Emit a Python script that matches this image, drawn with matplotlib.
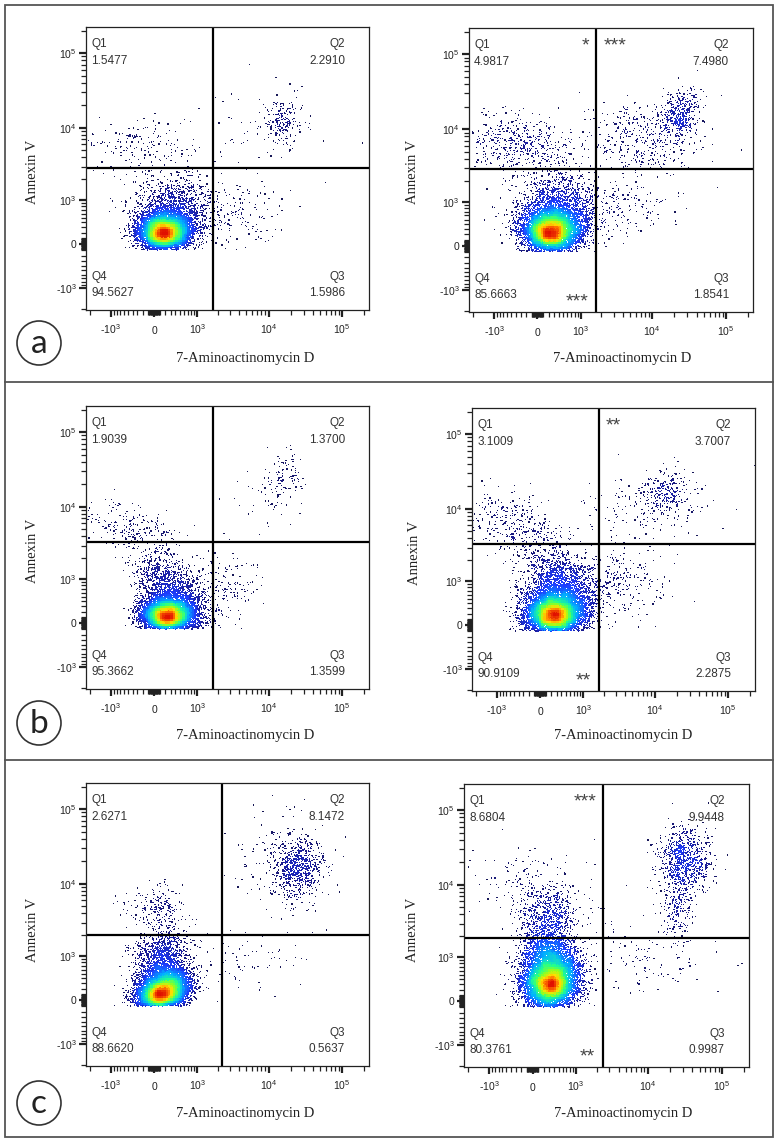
import numpy as np
import matplotlib
matplotlib.use("Agg")
import matplotlib.pyplot as plt
from matplotlib.patches import Ellipse, Rectangle
from matplotlib.lines import Line2D
from matplotlib.colors import LinearSegmentedColormap

plt.rcParams['mathtext.fontset'] = 'custom'
plt.rcParams['mathtext.rm'] = 'Liberation Sans'
plt.rcParams['font.family'] = ['Liberation Sans', 'DejaVu Sans']

# ---- data ----
row_letters = ['a', 'b', 'c']
q1_pct = [1.5477, 4.9817, 1.9039, 3.1009, 2.6271, 8.6804]
q2_pct = [2.2910, 7.4980, 1.3700, 3.7007, 8.1472, 9.9448]
q3_pct = [1.5986, 1.8541, 1.3599, 2.2875, 0.5637, 0.9987]
q4_pct = [94.5627, 85.6663, 95.3662, 90.9109, 88.6620, 80.3761]
gate_x = [1715, 1715, 1715, 1715, 2300, 2450]
gate_y = [2900, 2900, 3340, 3340, 2010, 1890]
stars_q1 = ['', '*', '', '', '', '***']
stars_q2 = ['', '***', '', '**', '', '']
stars_q4 = ['', '***', '', '**', '', '**']
x_label = '7-Aminoactinomycin D'
y_label = 'Annexin V'
tick_vals = [-1e3, 0, 1e3, 1e4, 1e5]
tick_text = ['-$10^{3}$', '0', '$10^{3}$', '$10^{4}$', '$10^{5}$']
n_events = 10000

# event populations seen in each plot:
# (centre x, centre y, spread x, spread y in asinh units, tilt, weight)
pops_a1 = [(160, 170, 0.22, 0.15, 0.0, 0.15), (190, 230, 0.40, 0.28, 0.0, 0.60),
           (350, 600, 0.60, 0.55, 0.0, 0.14),
           (-169, 5561, 0.9, 0.45, -0.2, 0.03), (16240, 12000, 0.35, 0.40, 0.2, 0.02),
           (9180, 9180, 1.0, 0.8, 0.0, 0.01), (3357, 652, 0.9, 0.55, 0.0, 0.015)]
pops_a2 = [(234, 220, 0.24, 0.17, 0.0, 0.14), (260, 280, 0.46, 0.34, 0.0, 0.56),
           (420, 700, 0.65, 0.60, -0.1, 0.18),
           (-289, 6149, 0.9, 0.45, -0.2, 0.06), (23040, 15000, 0.35, 0.40, 0.3, 0.05),
           (7515, 7515, 1.0, 0.6, 0.0, 0.05), (4545, 838, 0.9, 0.5, 0.0, 0.02)]
pops_b1 = [(234, 100, 0.22, 0.13, 0.0, 0.15), (250, 150, 0.40, 0.26, 0.0, 0.58),
           (353, 570, 0.55, 0.55, -0.4, 0.15),
           (-353, 5028, 0.8, 0.4, -0.5, 0.03), (16240, 24000, 0.40, 0.50, 0.5, 0.02),
           (9180, 9180, 0.9, 0.6, 0.0, 0.005), (2740, 741, 0.6, 0.45, 0.0, 0.015)]
pops_b2 = [(234, 150, 0.24, 0.16, 0.0, 0.14), (260, 200, 0.46, 0.34, 0.0, 0.56),
           (421, 741, 0.60, 0.60, -0.2, 0.18),
           (-493, 6149, 0.8, 0.5, -0.3, 0.04), (15150, 17000, 0.40, 0.30, 0.2, 0.03),
           (7515, 9180, 1.0, 0.6, 0.0, 0.02), (3357, 942, 0.8, 0.5, 0.0, 0.02)]
pops_c1 = [(130, 100, 0.22, 0.15, 0.3, 0.15), (160, 150, 0.40, 0.30, 0.3, 0.58),
           (150, 700, 0.42, 0.55, 0.1, 0.16),
           (56, 4500, 0.5, 0.45, 0.0, 0.03), (25200, 16000, 0.38, 0.45, 0.0, 0.07),
           (18500, 18500, 0.8, 0.8, 0.0, 0.02), (5561, 838, 0.9, 0.5, 0.0, 0.01)]
pops_c2 = [(334, 280, 0.24, 0.22, 0.1, 0.14), (334, 350, 0.44, 0.45, 0.1, 0.52),
           (289, 1100, 0.45, 0.65, 0.1, 0.20),
           (228, 4000, 0.45, 0.40, 0.0, 0.06), (0, 9180, 1.0, 0.6, 0.0, 0.03),
           (32400, 21000, 0.42, 0.50, 0.0, 0.06), (25000, 5000, 0.25, 0.45, 0.0, 0.015),
           (9180, 942, 1.0, 0.5, 0.0, 0.01)]
pops = [pops_a1, pops_a2, pops_b1, pops_b2, pops_c1, pops_c2]

# ---- layout (pixels) ----
FW, FH = 780, 1143
W = 555.0
XLIM = (-2300, 2.32e5)
YLIM = (-2075, 2.23e5)
boxes = [(86, 27, 369, 310), (469, 28, 753, 312),
         (86, 406, 369, 689), (472, 408, 755, 691),
         (86, 783, 369, 1066), (464, 784, 749, 1067)]
xlab_pos = [(245, 358), (622, 358), (245, 735), (623, 735), (245, 1113), (623, 1113)]
ylab_pos = [(32, 172), (412, 172), (32, 551), (414, 553), (33, 930), (412, 930)]
circle_pos = [(39, 343), (39, 723), (39, 1103)]

dens_cmap = LinearSegmentedColormap.from_list('flow', [
    (0.00, '#16164c'), (0.08, '#1a1a90'), (0.20, '#1e3cff'), (0.35, '#00b4ff'),
    (0.50, '#20ff90'), (0.62, '#90ff20'), (0.75, '#ffe000'), (0.88, '#ff7000'),
    (1.00, '#e01000')])


def fwd(x):
    return np.arcsinh(np.asarray(x, dtype=float) / W)


def inv(u):
    return W * np.sinh(np.asarray(u, dtype=float))


def make_events(table, pcts, gx, gy, rng):
    # pool of events from the population table, then kept per quadrant
    pool_size = 200000
    w = np.array([p[5] for p in table])
    counts = np.round(w / w.sum() * pool_size).astype(int)
    us, vs = [], []
    for (cx, cy, sx, sy, rho, _), n in zip(table, counts):
        z1 = rng.standard_normal(n)
        z2 = rng.standard_normal(n)
        us.append(fwd(cx) + sx * z1)
        vs.append(fwd(cy) + sy * (rho * z1 + np.sqrt(1 - rho ** 2) * z2))
    u = np.concatenate(us)
    v = np.concatenate(vs)
    order = rng.permutation(len(u))
    u, v = u[order], v[order]
    ok = (v > -0.18) & (u > fwd(XLIM[0])) & (u < fwd(XLIM[1])) & (v < fwd(YLIM[1]))
    u, v = u[ok], v[ok]
    gu, gv = fwd(gx), fwd(gy)
    masks = [(u < gu) & (v >= gv), (u >= gu) & (v >= gv),
             (u >= gu) & (v < gv), (u < gu) & (v < gv)]
    keep_u, keep_v = [], []
    for m, p in zip(masks, pcts):
        n = int(round(p / 100 * n_events))
        keep_u.append(u[m][:n])
        keep_v.append(v[m][:n])
    return np.concatenate(keep_u), np.concatenate(keep_v)


def density(u, v):
    step = 0.075
    eu = np.arange(fwd(XLIM[0]), fwd(XLIM[1]) + step, step)
    ev = np.arange(fwd(YLIM[0]), fwd(YLIM[1]) + step, step)
    h, _, _ = np.histogram2d(u, v, bins=[eu, ev])
    hp = np.pad(h, 1)
    h = sum(hp[1 + i:hp.shape[0] - 1 + i, 1 + j:hp.shape[1] - 1 + j]
            for i in (-1, 0, 1) for j in (-1, 0, 1)) / 9.0
    iu = np.clip(np.digitize(u, eu) - 1, 0, h.shape[0] - 1)
    iv = np.clip(np.digitize(v, ev) - 1, 0, h.shape[1] - 1)
    return h[iu, iv]


fig = plt.figure(figsize=(FW / 100, FH / 100), dpi=100)
rng = np.random.default_rng(7)

minor = []
for d in (1, 2, 3, 4):
    for k in range(1, 10):
        val = k * 10 ** d
        if d >= 3 and k == 1:
            continue
        minor += [val, -val]
minor.append(2e5)

for i in range(6):
    l, t, r, b = boxes[i]
    ax = fig.add_axes([l / FW, 1 - b / FH, (r - l) / FW, (b - t) / FH])
    ax.set_xscale('function', functions=(fwd, inv))
    ax.set_yscale('function', functions=(fwd, inv))
    ax.set_xlim(*XLIM)
    ax.set_ylim(*YLIM)

    pcts = [q1_pct[i], q2_pct[i], q3_pct[i], q4_pct[i]]
    u, v = make_events(pops[i], pcts, gate_x[i], gate_y[i], rng)
    d = density(u, v)
    c = (d / d.max()) ** 0.65
    o = np.argsort(c)
    ax.scatter(inv(u[o]), inv(v[o]), c=c[o], cmap=dens_cmap, vmin=0, vmax=1,
               s=0.8, marker='s', linewidths=0, antialiased=False, rasterized=True)

    ax.axvline(gate_x[i], color='black', lw=1.6)
    ax.axhline(gate_y[i], color='black', lw=1.6)

    for sp in ax.spines.values():
        sp.set_linewidth(0.9)
        sp.set_color('#222222')

    ax.set_xticks(tick_vals)
    ax.set_xticklabels(tick_text)
    ax.set_yticks(tick_vals)
    ax.set_yticklabels(tick_text)
    ax.set_xticks([m for m in minor if XLIM[0] < m < XLIM[1]], minor=True)
    ax.set_yticks([m for m in minor if YLIM[0] < m < YLIM[1]], minor=True)
    ax.tick_params(which='major', direction='out', length=5, width=1.6,
                   labelsize=7.5, colors='#222222')
    ax.tick_params(which='minor', direction='out', length=3.5, width=0.9, colors='#222222')
    ax.tick_params(axis='y', which='major', pad=2)
    ax.tick_params(axis='x', which='major', pad=12)
    for lab in ax.get_xticklabels():
        lab.set_verticalalignment('baseline')

    tk = dict(transform=ax.transAxes, fontsize=8.5, color='#333333')
    ax.text(0.018, 0.94, 'Q1', ha='left', va='center', **tk)
    ax.text(0.018, 0.88, '%.4f' % q1_pct[i], ha='left', va='center', **tk)
    ax.text(0.915, 0.94, 'Q2', ha='right', va='center', **tk)
    ax.text(0.915, 0.88, '%.4f' % q2_pct[i], ha='right', va='center', **tk)
    ax.text(0.018, 0.117, 'Q4', ha='left', va='center', **tk)
    ax.text(0.018, 0.06, '%.4f' % q4_pct[i], ha='left', va='center', **tk)
    ax.text(0.915, 0.117, 'Q3', ha='right', va='center', **tk)
    ax.text(0.915, 0.06, '%.4f' % q3_pct[i], ha='right', va='center', **tk)

    st = dict(xycoords=('data', 'axes fraction'), textcoords='offset points',
              fontsize=14, color='#444444')
    if stars_q1[i]:
        ax.annotate(stars_q1[i], xy=(gate_x[i], 1), xytext=(-5, -13),
                    ha='right', va='center', **st)
    if stars_q2[i]:
        ax.annotate(stars_q2[i], xy=(gate_x[i], 1), xytext=(5, -13),
                    ha='left', va='center', **st)
    if stars_q4[i]:
        ax.annotate(stars_q4[i], xy=(gate_x[i], 0), xytext=(-6, 7),
                    ha='right', va='center', **st)

    fig.text(xlab_pos[i][0] / FW, 1 - xlab_pos[i][1] / FH, x_label,
             family='Liberation Serif', fontsize=10.5, ha='center', va='center',
             color='#222222')
    fig.text(ylab_pos[i][0] / FW, 1 - ylab_pos[i][1] / FH, y_label,
             family='Liberation Serif', fontsize=10.5, ha='center', va='center',
             rotation=90, color='#222222')

# frame around the rows
frame_col = '#555555'
fig.patches.append(Rectangle((5 / FW, 1 - 1137 / FH), 768 / FW, 1132 / FH,
                             transform=fig.transFigure, fill=False,
                             edgecolor=frame_col, lw=1.3))
for yy in (382, 760):
    fig.lines.append(Line2D([5 / FW, 773 / FW], [1 - yy / FH, 1 - yy / FH],
                            transform=fig.transFigure, color=frame_col, lw=1.3))

for (cx, cy), letter in zip(circle_pos, row_letters):
    fig.patches.append(Ellipse((cx / FW, 1 - cy / FH), 44 / FW, 44 / FH,
                               transform=fig.transFigure, fill=False,
                               edgecolor='#333333', lw=1.2))
    fig.text(cx / FW, 1 - (cy + 1) / FH, letter, family='Lato', fontsize=24,
             ha='center', va='center', color='#222222')

fig.savefig('out.png', dpi=100)
